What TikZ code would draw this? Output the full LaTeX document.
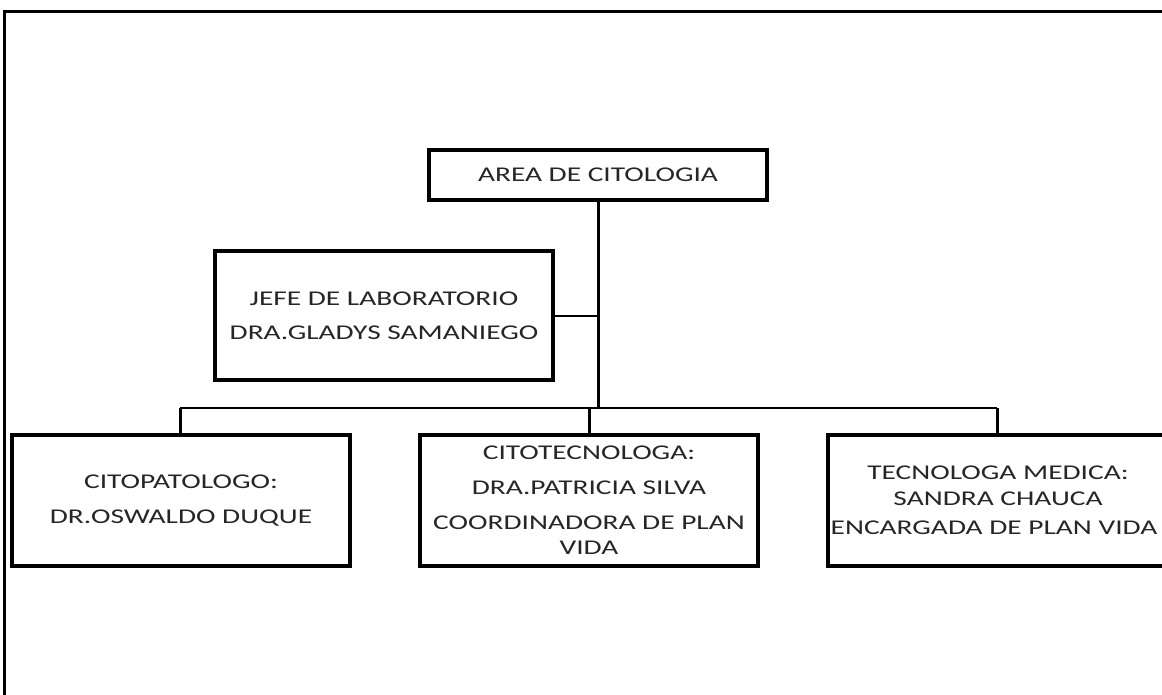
\documentclass[tikz,border=0pt]{standalone}
\usepackage{fontspec}
\setmainfont[FakeStretch=1.40]{Carlito}
\begin{document}
\begin{tikzpicture}[x=1pt,y=-1pt,
  box/.style={draw=black,line width=3.5pt,align=center,inner sep=0pt,
    text=black!85,font=\fontsize{21}{25}\selectfont},
  conn/.style={draw=black,line width=2pt},
  thick conn/.style={draw=black,line width=3pt}]
\useasboundingbox (0,0) rectangle (1162,694);
\fill[white] (0,0) rectangle (1162,694);
% frame
\draw[line width=3pt] (4,720) -- (4,11) -- (1180,11);
% nodes
\node[box,minimum width=338pt,minimum height=50pt] (top) at (598,175) {AREA DE CITOLOGIA};
\node[box,minimum width=338pt,minimum height=129pt] (jefe) at (384,315.5) {JEFE DE LABORATORIO\\[9pt]DRA.GLADYS SAMANIEGO};
\node[box,minimum width=338pt,minimum height=131pt] (c1) at (181,500.5) {CITOPATOLOGO:\\[10pt]DR.OSWALDO DUQUE};
\node[box,minimum width=338pt,minimum height=131pt] (c2) at (589,500.5) {CITOTECNOLOGA:\\[10pt]DRA.PATRICIA SILVA\\[10pt]COORDINADORA DE PLAN\\[0pt]VIDA};
\node[box,minimum width=340pt,minimum height=131pt] (c3) at (998,500.5) {TECNOLOGA MEDICA:\\[1pt]SANDRA CHAUCA\\[4pt]\hspace*{-8pt}ENCARGADA DE PLAN VIDA};
% connectors
\coordinate (bl) at (180,408);
\coordinate (br) at (997,408);
\draw[thick conn] (top.south) -- (top.south |- bl);
\draw[conn] (jefe.east) -- (jefe.east -| top.south);
\draw[conn] (bl) -- (br);
\draw[thick conn] (bl) -- (bl |- c1.north);
\draw[thick conn] (c2.north) -- (c2.north |- bl);
\draw[thick conn] (br) -- (br |- c3.north);
\end{tikzpicture}
\end{document}
